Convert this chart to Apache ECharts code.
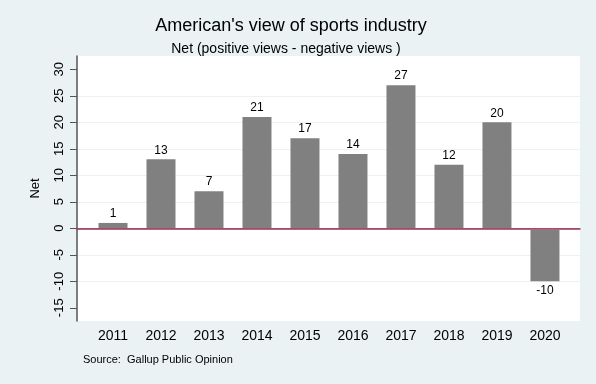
<!DOCTYPE html>
<html>
<head>
<meta charset="utf-8">
<script src="https://cdn.jsdelivr.net/npm/echarts@6/dist/echarts.min.js"></script>
<style>
html,body{margin:0;padding:0;background:#EAF2F3;}
#chart{width:596px;height:384px;}
</style>
</head>
<body>
<div id="chart"></div>
<script>
var years = [2011, 2012, 2013, 2014, 2015, 2016, 2017, 2018, 2019, 2020];
var netValues = [1, 13, 7, 21, 17, 14, 27, 12, 20, -10];
var yTicks = [-15, -10, -5, 0, 5, 10, 15, 20, 25, 30];

var FONT = '"Liberation Sans", Arial, sans-serif';
var chart = echarts.init(document.getElementById('chart'), null, {renderer: 'canvas'});

var barData = years.map(function (y, i) {
  var v = netValues[i];
  return {
    value: [y, v],
    label: {position: v < 0 ? 'bottom' : 'top'}
  };
});

chart.setOption({
  backgroundColor: '#EAF2F3',
  animation: false,
  title: [{
    text: "American's view of sports industry",
    left: 286, top: 12, textAlign: 'center',
    textStyle: {fontFamily: FONT, fontSize: 18, fontWeight: 'normal', color: '#000'}
  }, {
    text: 'Net (positive views - negative views )',
    left: 281, top: 37, textAlign: 'center',
    textStyle: {fontFamily: FONT, fontSize: 14, fontWeight: 'normal', color: '#000'}
  }, {
    text: 'Source:  Gallup Public Opinion',
    left: 78, top: 349,
    textStyle: {fontFamily: FONT, fontSize: 11, fontWeight: 'normal', color: '#000'}
  }],
  grid: {left: 77, right: 16, top: 56, bottom: 63, show: true, backgroundColor: '#ffffff', borderWidth: 0},
  xAxis: {
    type: 'value',
    min: 2010.25, max: 2020.73,
    axisLine: {show: true, lineStyle: {color: '#555', width: 1.5}},
    axisTick: {show: false},
    splitLine: {show: false},
    axisLabel: {
      customValues: years,
      formatter: function (v) { return String(v); },
      fontFamily: FONT, fontSize: 14, color: '#000', margin: 8
    }
  },
  yAxis: {
    type: 'value',
    min: -17.5, max: 32.5,
    name: 'Net',
    nameLocation: 'middle',
    nameGap: 35,
    nameRotate: 90,
    nameTextStyle: {fontFamily: FONT, fontSize: 13, color: '#000'},
    axisLine: {show: true, lineStyle: {color: '#555', width: 1.5}},
    axisTick: {show: true, customValues: yTicks, length: 7, lineStyle: {color: '#555'}},
    axisLabel: {
      customValues: yTicks,
      rotate: 90,
      fontFamily: FONT, fontSize: 13, color: '#000', margin: 11
    },
    splitLine: {show: true, showMinLine: false, showMaxLine: false, lineStyle: {color: '#EAF2F3', width: 1}}
  },
  series: [{
    type: 'bar',
    data: barData,
    barWidth: 29,
    itemStyle: {color: '#808080'},
    label: {show: true, fontFamily: FONT, fontSize: 12, color: '#000', distance: 3},
    markLine: {
      silent: true,
      symbol: 'none',
      label: {show: false},
      lineStyle: {color: '#D6336A', width: 1, type: 'solid'},
      data: [{yAxis: 0}]
    }
  }]
});
</script>
</body>
</html>
